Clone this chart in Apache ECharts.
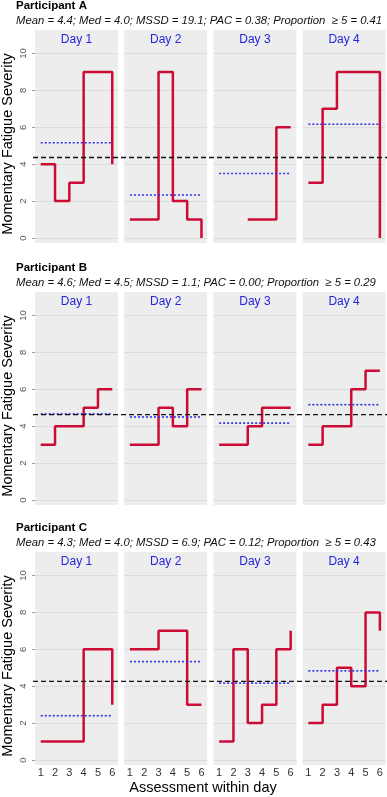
<!DOCTYPE html>
<html>
<head>
<meta charset="utf-8">
<script src="https://cdn.jsdelivr.net/npm/echarts@6/dist/echarts.min.js"></script>
<style>
  html, body { margin: 0; padding: 0; background: #fff; }
  #chart { width: 387px; height: 797px; }
</style>
</head>
<body>
<div id="chart"></div>
<script>
// data (null = missing assessment)
const days = ['Day 1', 'Day 2', 'Day 3', 'Day 4'];
const assessments = [1, 2, 3, 4, 5, 6];
const participants = ['Participant A', 'Participant B', 'Participant C'];
const summaries = [
  'Mean = 4.4; Med = 4.0; MSSD = 19.1; PAC = 0.38; Proportion  \u2265 5 = 0.41',
  'Mean = 4.6; Med = 4.5; MSSD = 1.1; PAC = 0.00; Proportion  \u2265 5 = 0.29',
  'Mean = 4.3; Med = 4.0; MSSD = 6.9; PAC = 0.12; Proportion  \u2265 5 = 0.43'
];
const partA = [
  [4, 2, 3, 9, 9, 4],
  [1, 1, 9, 2, 1, 0],
  [null, null, 1, 1, 6, 6],
  [3, 7, 9, 9, 9, 0]
];
const partB = [
  [3, 4, 4, 5, 6, 6],
  [3, 3, 5, 4, 6, 6],
  [3, 3, 4, 5, 5, 5],
  [3, 4, 4, 6, 7, 7]
];
const partC = [
  [1, 1, 1, 6, null, 3],
  [6, 6, 7, 7, 3, 3],
  [1, 6, 2, 3, 6, 7],
  [2, 3, 5, 4, 8, 7]
];
const rows = [partA, partB, partC];

const FONT = '"Liberation Sans", Arial, sans-serif';
const RED = '#cc0c37';
const BLUE = '#2f2fe6';

const rowTops = [30, 292, 552];
const panelW = 83, panelH = 213, innerTop = 23.5, innerH = 184.5;

function mean(list) {
  const v = list.filter(x => x !== null);
  return v.reduce((a, b) => a + b, 0) / v.length;
}

const grid = [], xAxis = [], yAxis = [], series = [], graphic = [];

rows.forEach((row, r) => {
  const top = rowTops[r];

  row.forEach((vals, d) => {
    const left = 35 + d * 89.2;

    // grey panel background
    let gi = grid.length;
    grid.push({ left: left, top: top, width: panelW, height: panelH, show: true,
      backgroundColor: '#ededed', borderWidth: 0 });
    xAxis.push({ gridIndex: gi, type: 'value', show: false, min: 0, max: 1 });
    yAxis.push({ gridIndex: gi, type: 'value', show: false, min: 0, max: 1 });

    // data area
    gi = grid.length;
    grid.push({ left: left, top: top + innerTop, width: panelW, height: innerH });
    xAxis.push({
      gridIndex: gi, type: 'value', min: 0.6, max: 6.4,
      axisLine: { show: false }, axisTick: { show: false }, splitLine: { show: false },
      axisLabel: { show: r === 2, customValues: assessments, margin: 7,
        fontSize: 11, color: '#333', fontFamily: FONT }
    });
    yAxis.push({
      gridIndex: gi, type: 'value', min: 0, max: 10, interval: 2,
      axisLine: { show: false },
      axisTick: { show: d === 0, length: 3, lineStyle: { color: '#999' } },
      splitLine: { show: true, lineStyle: { color: '#dcdcdc', width: 1 } },
      axisLabel: { show: d === 0, rotate: 90, margin: 7, fontSize: 9.5,
        color: '#555', fontFamily: FONT }
    });

    const pts = [];
    vals.forEach((v, i) => { if (v !== null) pts.push([assessments[i], v]); });
    series.push({
      type: 'line', xAxisIndex: gi, yAxisIndex: gi, step: 'end', data: pts,
      symbol: 'none', clip: false, silent: true, z: 3,
      lineStyle: { color: RED, width: 2.5 }
    });

    const m = mean(vals);
    series.push({
      type: 'line', xAxisIndex: gi, yAxisIndex: gi,
      data: [[assessments[0], m], [assessments[assessments.length - 1], m]],
      symbol: 'none', clip: false, silent: true, z: 4,
      lineStyle: { color: BLUE, width: 1.6, type: [2, 2] }
    });

    graphic.push({
      type: 'text', x: left + panelW / 2, y: top + 10, z: 10,
      style: { text: days[d], fill: '#2424dc', font: '12px ' + FONT,
        textAlign: 'center', textVerticalAlign: 'middle' }
    });
  });

  // overall mean across the row
  const gi = grid.length;
  grid.push({ left: 33, right: 0, top: top + innerTop, height: innerH });
  xAxis.push({ gridIndex: gi, type: 'value', show: false, min: 0, max: 1 });
  yAxis.push({ gridIndex: gi, type: 'value', show: false, min: 0, max: 10 });
  const all = [].concat(...row);
  const overall = mean(all);
  series.push({
    type: 'line', xAxisIndex: gi, yAxisIndex: gi, data: [[0, overall], [1, overall]],
    symbol: 'none', silent: true, z: 5,
    lineStyle: { color: '#111', width: 1.3, type: [5, 3] }
  });

  graphic.push({
    type: 'text', x: 16, y: top - 24, z: 10,
    style: { text: participants[r], fill: '#000', font: 'bold 11.5px ' + FONT,
      textVerticalAlign: 'middle' }
  });
  graphic.push({
    type: 'text', x: 16, y: top - 9, z: 10,
    style: { text: summaries[r], fill: '#111', font: 'italic 11.3px ' + FONT,
      textVerticalAlign: 'middle' }
  });
  graphic.push({
    type: 'text', x: 8, y: top + 114, rotation: Math.PI / 2, z: 10,
    style: { text: 'Momentary Fatigue Severity', fill: '#000', font: '14.5px ' + FONT,
      textAlign: 'center', textVerticalAlign: 'middle' }
  });
});

graphic.push({
  type: 'text', x: 203, y: 788, z: 10,
  style: { text: 'Assessment within day', fill: '#000', font: '14.5px ' + FONT,
    textAlign: 'center', textVerticalAlign: 'middle' }
});

const chart = echarts.init(document.getElementById('chart'));
chart.setOption({
  animation: false,
  backgroundColor: '#fff',
  grid: grid,
  xAxis: xAxis,
  yAxis: yAxis,
  series: series,
  graphic: graphic
});
</script>
</body>
</html>
